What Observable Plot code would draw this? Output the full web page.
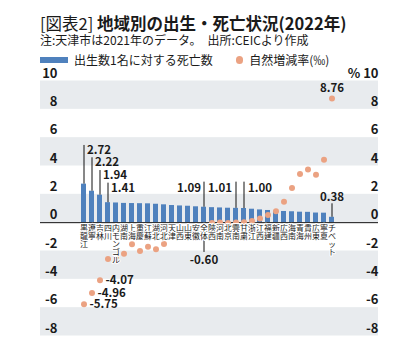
<!DOCTYPE html>
<html><head><meta charset="utf-8">
<script src="https://cdn.jsdelivr.net/npm/d3@7"></script>
<script src="https://cdn.jsdelivr.net/npm/@observablehq/plot@0.6"></script>
<style>
body{margin:0;background:#fff;font-family:'Noto Sans CJK JP',sans-serif;color:#1a1a1a;width:416px;height:355px;position:relative;overflow:hidden}
.abs{position:absolute;white-space:nowrap}
#title{left:40px;top:13px;font-size:16.5px;line-height:20px}
#title b{font-weight:700}
#sub{left:40px;top:32px;font-size:12px;line-height:16px}
#legend{left:40px;top:52px;font-size:12px;line-height:16px;display:flex;align-items:center}
.sw{display:inline-block;width:28px;height:5.5px;background:#4f81bd;margin-right:6px}
.dt{display:inline-block;width:7.5px;height:7.5px;border-radius:50%;background:#eba282;margin-left:23px;margin-right:6px}
#chart{position:absolute;left:0;top:58px}
</style></head>
<body>
<div id="title" class="abs">[図表2] <b>地域別の出生・死亡状況(2022年)</b></div>
<div id="sub" class="abs">注:天津市は2021年のデータ。　出所:CEICより作成</div>
<div id="legend" class="abs"><span class="sw"></span><span>出生数1名に対する死亡数</span><span class="dt"></span><span>自然増減率(‰)</span></div>
<div id="chart"></div>
<script>
const categories = ["黒龍江","遼寧","吉林","四川","内モンゴル","湖南","上海","重慶","江蘇","湖北","河北","天津","山西","山東","安徽","全体","陝西","河南","北京","雲南","甘粛","浙江","江西","福建","新疆","広西","海南","青海","貴州","広東","寧夏","チベット"];
const deathsPerBirth = [2.72,2.22,1.94,1.41,1.39,1.36,1.35,1.34,1.33,1.30,1.26,1.21,1.18,1.16,1.12,1.09,1.06,1.04,1.02,1.01,1.00,0.95,0.90,0.86,0.81,0.79,0.77,0.74,0.73,0.68,0.67,0.38];
const naturalRate = [-5.75,-4.96,-4.07,-2.56,-2.4,-2.2,-1.53,-2.0,-1.7,-1.88,-1.5,-0.9,-0.6,-0.8,-0.6,-0.60,-0.03,0.02,-0.02,0.02,0.03,0.12,0.3,0.55,0.8,1.48,2.44,3.43,3.76,3.38,4.44,8.76];
const yTicks = [10,8,6,4,2,0,-2,-4,-6,-8];
const barLabelNames = ["黒龍江","遼寧","吉林","四川","全体","雲南","甘粛","チベット"];
const dotLabelNames = ["黒龍江","遼寧","吉林","全体","チベット"];

const table = categories.map((name,i)=>({name, deaths: deathsPerBirth[i], rate: naturalRate[i]}));
const byName = new Map(table.map(d=>[d.name,d]));
const fmt = v => d3.format(".2f")(v).replace("−","-");

// annotation layout (leader tops / label levels, in y units; offsets in px)
const barLayout = {
  "黒龍江": {top:5.45, ly:5.1, anchor:"start", dx:3},
  "遼寧": {top:4.58, ly:4.27, anchor:"start", dx:3},
  "吉林": {top:3.68, ly:3.33, anchor:"start", dx:3},
  "四川": {top:2.79, ly:2.43, anchor:"start", dx:3},
  "全体": {top:2.86, ly:2.43, anchor:"end", dx:-3},
  "雲南": {top:2.86, ly:2.43, anchor:"end", dx:-4},
  "甘粛": {top:2.86, ly:2.43, anchor:"start", dx:4},
  "チベット": {top:1.33, ly:1.82, anchor:"middle", dx:0}
};
const barNotes = barLabelNames.map(n=>({name:n, v: byName.get(n).deaths, ...barLayout[n]}));
const noteGroups = d3.groups(barNotes, d=>d.anchor+"|"+d.dx);
const dotNotes = dotLabelNames.map(n=>({name:n, v: byName.get(n).rate}));
const sideDots = dotNotes.filter(d=>["黒龍江","遼寧","吉林"].includes(d.name));
const overall = dotNotes.filter(d=>d.name==="全体");
const topDot = dotNotes.filter(d=>d.name==="チベット");

const bands = [[8,10],[4,6],[0,2],[-4,-2],[-8,-6]];

const chart = Plot.plot({
  width: 416, height: 297,
  marginLeft: 40, marginRight: 38, marginTop: 22.5, marginBottom: 19.5,
  x: {type:"band", domain: categories, paddingInner: 0.32, paddingOuter: 3.21, align: 0.486, axis: null},
  y: {domain: [-8,10], axis: null},
  style: {fontFamily: "'Noto Sans CJK JP', sans-serif", background: "transparent", color:"#1a1a1a", overflow:"visible"},
  marks: [
    Plot.rect(bands, {y1: d=>d[0], y2: d=>d[1], fill: "#e8ebee"}),
    Plot.barY(table, {x: "name", y: "deaths", fill: "#4f81bd"}),
    Plot.ruleX(barNotes, {x: "name", y1: "v", y2: "top", stroke: "#111", strokeWidth: 1}),
    Plot.ruleX(overall, {x: "name", y1: -1.15, y2: -2.1, stroke: "#111", strokeWidth: 1}),
    Plot.ruleY([0], {stroke: "#111", strokeWidth: 1}),
    Plot.dot(table, {x: "name", y: "rate", r: 3, fill: "#eba282"}),
    Plot.text(table, {x: "name", y: d=>0, text: d=>[...d.name].join("\n"), lineAnchor: "top", dy: 3, fontSize: 8, lineHeight: 1.0, fill: "#1a1a1a", stroke: "white", strokeWidth: 2}),
    ...noteGroups.map(([k, rows]) => Plot.text(rows, {x: "name", y: "ly", text: d=>fmt(d.v), textAnchor: rows[0].anchor, dx: rows[0].dx, fontWeight: "bold", fontSize: 11.5})),
    Plot.text(sideDots, {x: "name", y: "v", text: d=>fmt(d.v), textAnchor: "start", dx: 5.5, fontWeight: "bold", fontSize: 11.5}),
    Plot.text(overall, {x: "name", y: -2.67, text: d=>fmt(d.v), textAnchor: "middle", fontWeight: "bold", fontSize: 11.5}),
    Plot.text(topDot, {x: "name", y: "v", text: d=>fmt(d.v), textAnchor: "middle", dy: -10, fontWeight: "bold", fontSize: 11.5}),
    Plot.text(yTicks, {y: d=>d, text: d=>String(d), frameAnchor: "left", dx: 17, textAnchor: "end", dy: -7.5, fontWeight: "bold", fontSize: 13}),
    Plot.text(yTicks, {y: d=>d, text: d=> d===10 ? "% 10" : String(d), frameAnchor: "right", textAnchor: "end", dy: -7.5, fontWeight: "bold", fontSize: 13})
  ]
});
document.getElementById("chart").appendChild(chart);
</script>
</body></html>
